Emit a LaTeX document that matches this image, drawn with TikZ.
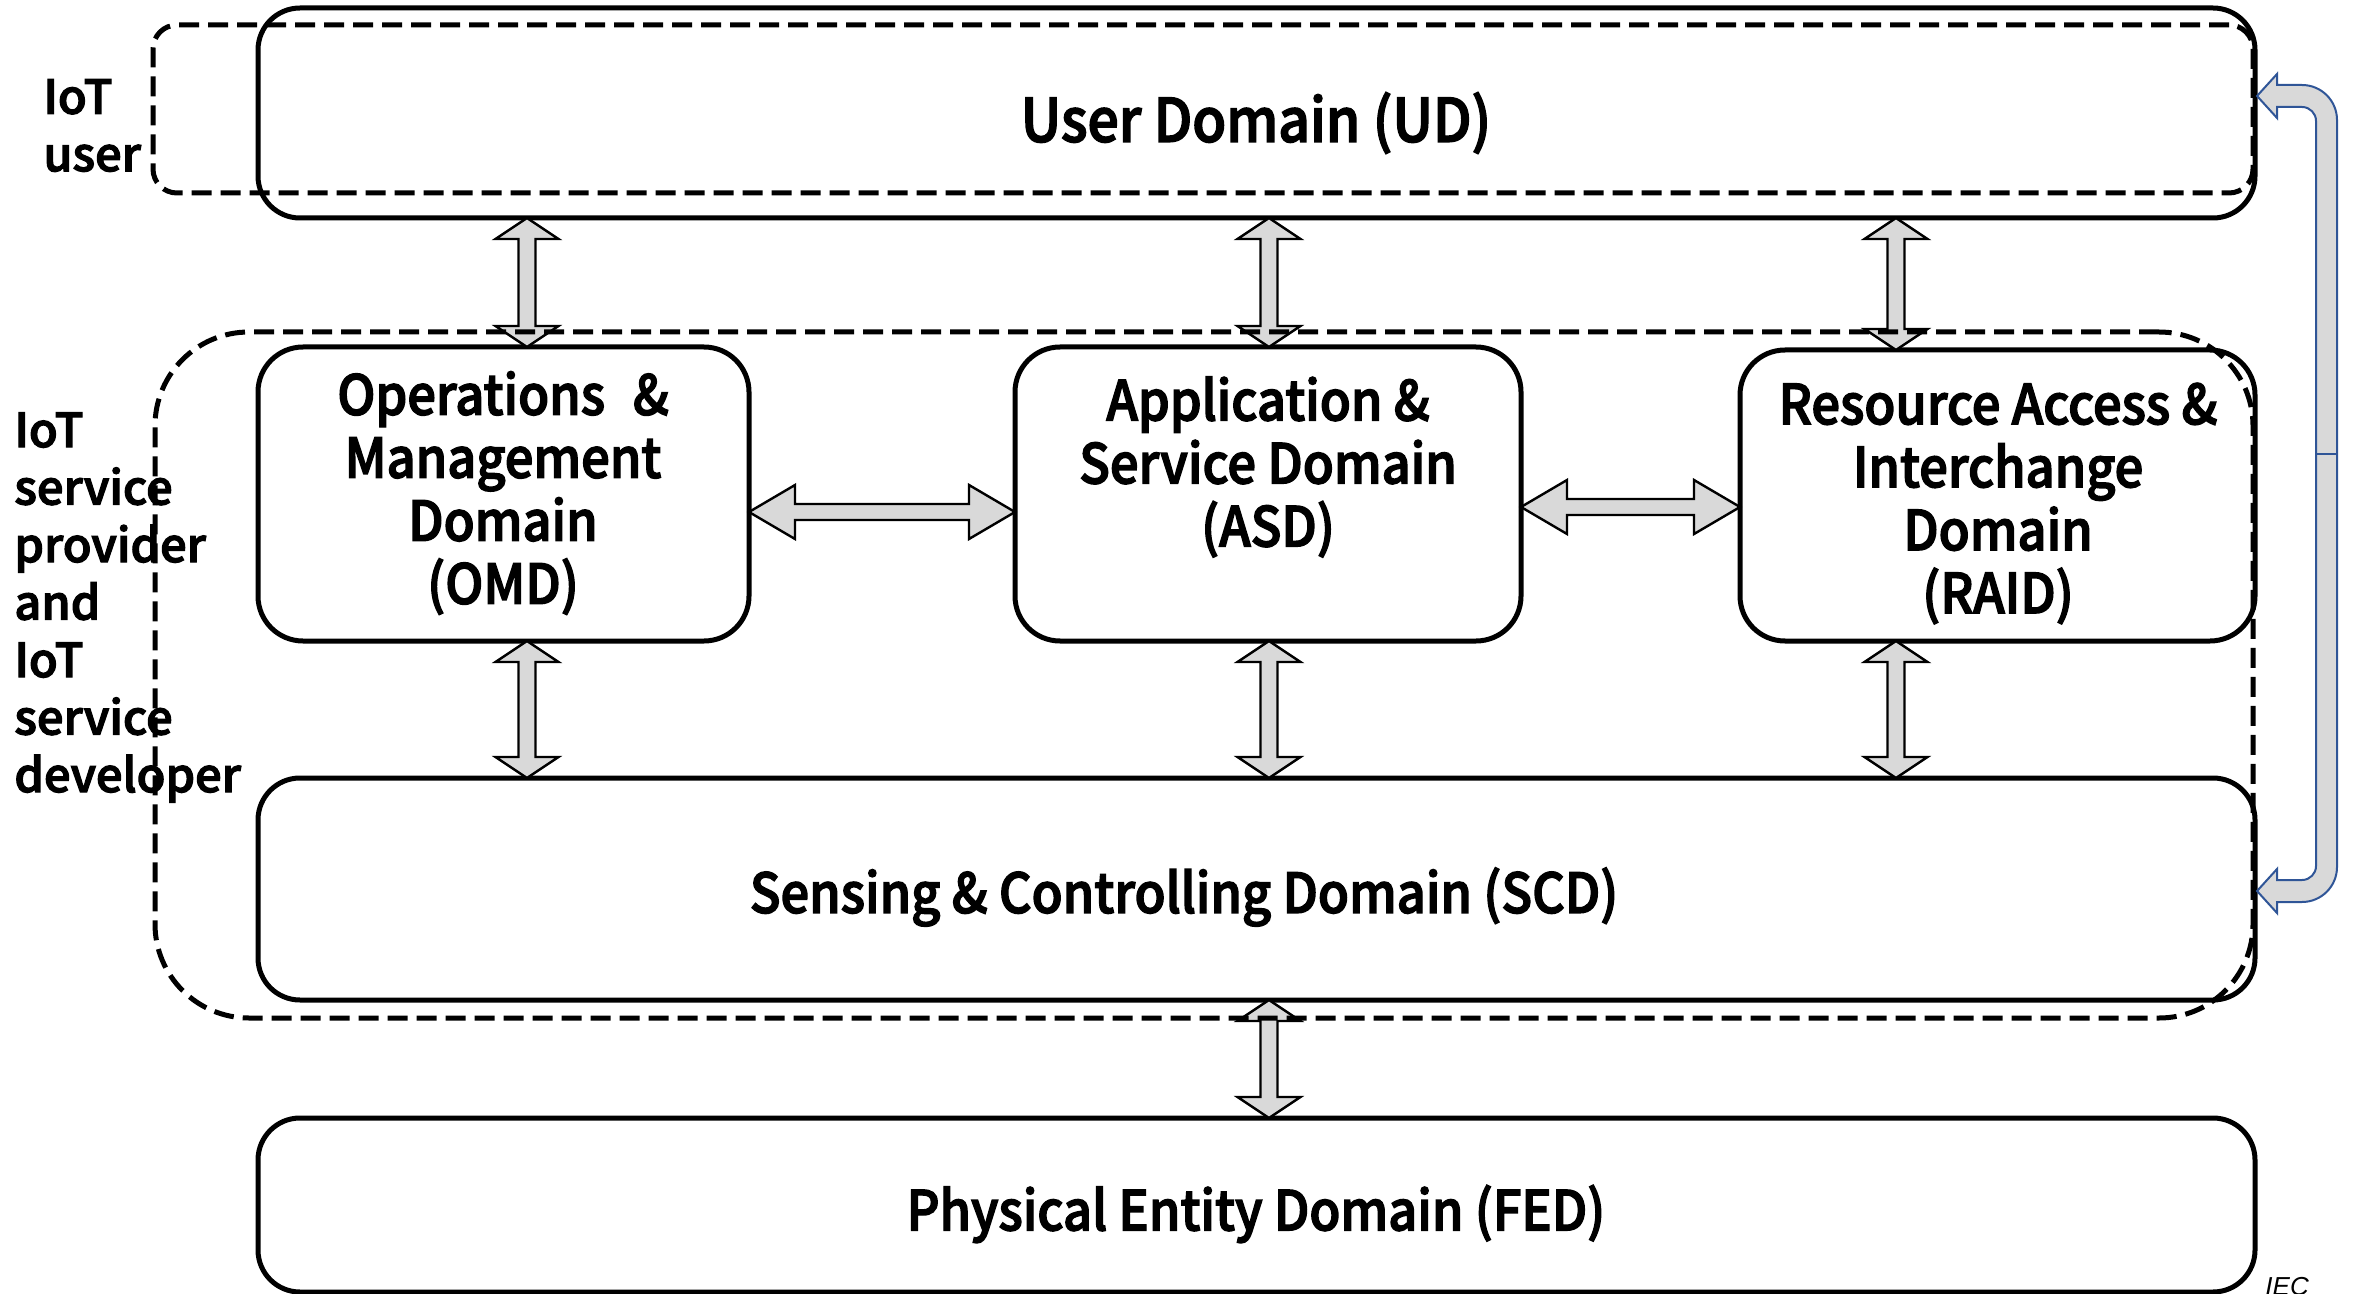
\documentclass[tikz,border=0pt]{standalone}
\usepackage{fontspec}
\newfontfamily\jpf{Noto Sans CJK JP Medium}[FakeBold=2.5, FakeStretch=0.92]
\newfontfamily\lblf{Noto Sans CJK JP Medium}[FakeBold=2.5]
\newfontfamily\iecf{Liberation Sans}
\usetikzlibrary{calc}
\definecolor{arrowgray}{HTML}{D9D9D9}
\definecolor{linkblue}{HTML}{2F5597}
\tikzset{
 domainbox/.style={draw, line width=2.5pt, rounded corners=21pt, inner sep=0pt, outer sep=0pt},
 midbox/.style={domainbox, rounded corners=22.5pt},
 rolebox/.style={draw, dash pattern=on 10pt off 4.5pt, line width=2.5pt, inner sep=0pt, outer sep=0pt},
 dtext/.style={font=\jpf\fontsize{27.5}{31.5}\selectfont, align=center, inner sep=0pt},
 ltext/.style={font=\lblf\fontsize{23.5}{28.75}\selectfont, align=left, inner sep=0pt, anchor=west},
 blockarrow/.style={draw=black, fill=arrowgray, line width=1.2pt, line join=miter},
 bentarrow/.style={draw=linkblue, fill=arrowgray, line width=1pt, line join=miter},
}
\newcommand{\vblock}[2]{%
 \draw[blockarrow] let \p1=(#1), \p2=(#2) in
 (\p1) -- (\x1+15.75pt,\y1-10.5pt) -- (\x1+4.25pt,\y1-10.5pt) -- (\x1+4.25pt,\y2+10.5pt)
 -- (\x1+15.75pt,\y2+10.5pt) -- (\x1,\y2) -- (\x1-15.75pt,\y2+10.5pt) -- (\x1-4.25pt,\y2+10.5pt)
 -- (\x1-4.25pt,\y1-10.5pt) -- (\x1-15.75pt,\y1-10.5pt) -- cycle;}
\newcommand{\hblock}[2]{%
 \draw[blockarrow] let \p1=(#1), \p2=(#2) in
 (\p1) -- (\x1+23pt,\y1+13.5pt) -- (\x1+23pt,\y1+4pt) -- (\x2-23pt,\y1+4pt)
 -- (\x2-23pt,\y1+13.5pt) -- (\x2,\y1) -- (\x2-23pt,\y1-13.5pt) -- (\x2-23pt,\y1-4pt)
 -- (\x1+23pt,\y1-4pt) -- (\x1+23pt,\y1-13.5pt) -- cycle;}
\begin{document}
\begin{tikzpicture}[x=0.5pt, y=-0.5pt]
\useasboundingbox (0,0) rectangle (2354,1294);
\clip (0,0) rectangle (2354,1294);
% domain boxes
\node[domainbox, minimum width=998.5pt, minimum height=105pt] (ud) at (1256.5,113) {};
\node[midbox, minimum width=245.5pt, minimum height=147pt] (omd) at (503.5,494) {};
\node[midbox, minimum width=253pt, minimum height=147pt] (asd) at (1268,494) {};
\node[midbox, minimum width=257.5pt, minimum height=145.5pt] (raid) at (1997.5,495.5) {};
\node[domainbox, minimum width=998.5pt, minimum height=111pt] (scd) at (1256.5,889) {};
\node[domainbox, minimum width=998.5pt, minimum height=87pt] (fed) at (1256.5,1205) {};
% texts
\node[dtext, font=\jpf\fontsize{30}{31.5}\selectfont] (udt) at (1256,123) {User Domain (UD)};
\node[dtext] (omdt) at (503,493) {Operations\hspace{0.3em} \&\\Management\\Domain\\(OMD)};
\node[dtext] (asdt) at (1268,467) {Application \&\\Service Domain\\(ASD)};
\node[dtext] (raidt) at (1998,503.5) {Resource Access \&\\Interchange\\Domain\\(RAID)};
\node[dtext] (scdt) at (1184,897) {Sensing \& Controlling Domain (SCD)};
\node[dtext] (fedt) at (1256,1214) {Physical Entity Domain (FED)};
\node[ltext] (usr) at (43,125.5) {IoT\\user};
\node[ltext] (prov) at (14,607.5) {IoT\\service\\provider\\and\\IoT\\service\\developer};
\node[font=\iecf\itshape\fontsize{13}{15}\selectfont, anchor=base west, inner sep=0pt] (iec) at (2265,1295) {IEC};
% helper coordinates
\coordinate (c1) at (527,0);
\coordinate (c2) at (1269,0);
\coordinate (c3) at (1896,0);
\coordinate (r1) at (0,512);
\coordinate (r2) at (0,507);
% block arrows
\vblock{ud.south -| c1}{omd.north -| c1}
\vblock{ud.south -| c2}{asd.north -| c2}
\vblock{ud.south -| c3}{raid.north -| c3}
\vblock{omd.south -| c1}{scd.north -| c1}
\vblock{asd.south -| c2}{scd.north -| c2}
\vblock{raid.south -| c3}{scd.north -| c3}
\vblock{scd.south -| c2}{fed.north -| c2}
\hblock{omd.east |- r1}{asd.west |- r1}
\hblock{asd.east |- r2}{raid.west |- r2}
% bent arrow between UD and SCD
\coordinate (bt) at ($(ud.east)+(2,-17)$);
\coordinate (bb) at ($(scd.east)+(2,2)$);
\draw[bentarrow] let \p1=(bt), \p2=(bb) in
 (\p1) -- (\x1+10pt,\y1+11pt) -- (\x1+10pt,\y1+5.5pt) -- (\x1+22.5pt,\y1+5.5pt)
 arc[start angle=90, end angle=0, radius=17.5pt] -- (\x1+40pt,\y2+12pt)
 arc[start angle=0, end angle=-90, radius=17.5pt] -- (\x1+10pt,\y2-5.5pt)
 -- (\x1+10pt,\y2-11pt) -- (\x1,\y2) -- (\x1+10pt,\y2+11pt) -- (\x1+10pt,\y2+5.5pt)
 -- (\x1+22.5pt,\y2+5.5pt) arc[start angle=-90, end angle=0, radius=7pt]
 -- (\x1+29.5pt,\y1-12.5pt) arc[start angle=0, end angle=90, radius=7pt]
 -- (\x1+10pt,\y1-5.5pt) -- (\x1+10pt,\y1-11pt) -- cycle;
\draw[linkblue, line width=1pt] let \p1=(bt) in (\x1+29.5pt,-227pt) -- (\x1+40pt,-227pt);
% role boxes
\node[rolebox, rounded corners=12pt, minimum width=1050pt, minimum height=84pt] (userrole) at (1203,109) {};
\node[rolebox, rounded corners=47pt, minimum width=1049pt, minimum height=343pt] (provrole) at (1204,675) {};
\end{tikzpicture}
\end{document}
